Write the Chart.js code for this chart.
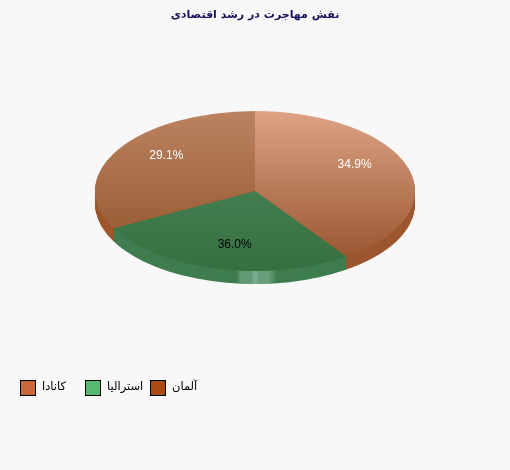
<!DOCTYPE html>
<html>
<head>
<meta charset="utf-8">
<title>نقش مهاجرت در رشد اقتصادی</title>
<script src="https://cdn.jsdelivr.net/npm/chart.js@4"></script>
<style>
    html, body { margin: 0; padding: 0; background: #f8f8f8; }
    #chart-box { position: relative; width: 510px; height: 470px; }
    #legend { position: absolute; left: 20px; top: 380px; display: flex; }
    .legend-item { width: 65px; display: flex; font: 11.5px "DejaVu Sans", sans-serif; color: #000; }
    .legend-box { width: 14px; height: 14px; border: 1px solid #000; margin-right: 6px; }
    .legend-text { line-height: 12px; }
</style>
</head>
<body>
<div id="chart-box">
    <canvas id="pieChart"></canvas>
    <div id="legend"></div>
</div>
<script>
// Chart data
const titleText = "نقش مهاجرت در رشد اقتصادی";
const categories = ["آلمان", "استرالیا", "کانادا"];
const shares = [34.9, 36.0, 29.1];

// Colors, same order as categories
const legendColors = ["#a84a12", "#58ba70", "#c8673a"];
const topLight = ["#dea385", "#4f8c62", "#bc8361"];
const topDark = ["#93502a", "#367040", "#8f5228"];
const sideColors = ["#9d5630", "#3f7d50", "#9c5628"];
const labelColors = ["#ffffff", "#000000", "#ffffff"];

// The pie is drawn as a tilted disc
const tilt = 0.5;
const depth = 13;
const centerY = 191;

// The original tilts the slice edges as well as the disc
function tiltAngle(angle) {
    const t = angle + Math.PI / 2;
    if (t >= Math.PI * 2 - 1e-6) return Math.PI * 1.5;
    let a = Math.atan2(tilt * Math.sin(t), Math.cos(t));
    if (a < 0) a += Math.PI * 2;
    return a - Math.PI / 2;
}

const tiltedPie = {
    id: "tiltedPie",
    afterDatasetsUpdate(chart) {
        chart.getDatasetMeta(0).data.forEach(arc => {
            // keep the real middle of the slice for the label
            arc.labelAngle = (arc.startAngle + arc.endAngle) / 2;
            arc.startAngle = tiltAngle(arc.startAngle);
            arc.endAngle = tiltAngle(arc.endAngle);
        });
    },
    beforeDatasetsDraw(chart) {
        const ctx = chart.ctx;
        const arcs = chart.getDatasetMeta(0).data;
        const { x, y } = arcs[0];
        ctx.save();
        ctx.translate(x, centerY);
        ctx.scale(1, tilt);
        ctx.translate(-x, -y);

        // side wall, stacked copies of each slice
        for (let d = depth; d >= 1; d--) {
            arcs.forEach((arc, i) => {
                ctx.beginPath();
                ctx.moveTo(arc.x, arc.y + d / tilt);
                ctx.arc(arc.x, arc.y + d / tilt, arc.outerRadius, arc.startAngle, arc.endAngle);
                ctx.closePath();
                ctx.fillStyle = sideColors[i];
                ctx.fill();
            });
        }

        // light stripes on the front of the wall
        const arc = arcs[1];
        const shine = ctx.createLinearGradient(arc.x - 18, 0, arc.x + 22, 0);
        shine.addColorStop(0, "rgba(125,175,145,0)");
        shine.addColorStop(0.08, "rgba(125,175,145,0.55)");
        shine.addColorStop(0.37, "rgba(125,175,145,0.6)");
        shine.addColorStop(0.42, "rgba(125,175,145,0.95)");
        shine.addColorStop(0.5, "rgba(125,175,145,0.95)");
        shine.addColorStop(0.55, "rgba(125,175,145,0.65)");
        shine.addColorStop(0.78, "rgba(125,175,145,0.7)");
        shine.addColorStop(1, "rgba(125,175,145,0)");
        ctx.beginPath();
        ctx.rect(arc.x - 18, arc.y, 40, arc.outerRadius + depth / tilt + 2);
        ctx.clip();
        ctx.beginPath();
        ctx.arc(arc.x, arc.y + depth / tilt, arc.outerRadius, 0, Math.PI);
        ctx.arc(arc.x, arc.y, arc.outerRadius, Math.PI, 0, true);
        ctx.closePath();
        ctx.fillStyle = shine;
        ctx.fill();
        ctx.restore();

        // top face, restored in afterDatasetsDraw
        ctx.save();
        ctx.translate(x, centerY);
        ctx.scale(1, tilt);
        ctx.translate(-x, -y);
    },
    afterDatasetsDraw(chart) {
        const ctx = chart.ctx;
        ctx.restore();

        ctx.font = "12px 'Liberation Sans', sans-serif";
        ctx.textAlign = "center";
        ctx.textBaseline = "middle";
        chart.getDatasetMeta(0).data.forEach((arc, i) => {
            const px = arc.x + Math.cos(arc.labelAngle) * arc.outerRadius * 0.7;
            const py = centerY + Math.sin(arc.labelAngle) * arc.outerRadius * 0.7 * tilt - 1;
            ctx.fillStyle = labelColors[i];
            ctx.fillText(shares[i].toFixed(1) + "%", px, py);
        });
    }
};

function sliceFill(context) {
    const chart = context.chart;
    if (!chart.chartArea) return topLight[context.dataIndex];
    const cy = (chart.chartArea.top + chart.chartArea.bottom) / 2;
    const g = chart.ctx.createLinearGradient(0, cy - 160, 0, cy + 160);
    g.addColorStop(0, topLight[context.dataIndex]);
    g.addColorStop(1, topDark[context.dataIndex]);
    return g;
}

new Chart(document.getElementById("pieChart"), {
    type: "pie",
    data: {
        labels: categories,
        datasets: [{
            data: shares,
            backgroundColor: sliceFill,
            borderWidth: 0,
            radius: 160,
            clip: false
        }]
    },
    plugins: [tiltedPie],
    options: {
        responsive: true,
        maintainAspectRatio: false,
        animation: false,
        plugins: {
            tooltip: { enabled: false },
            legend: { display: false },
            title: {
                display: true,
                text: titleText,
                color: "#14105c",
                font: { family: "'DejaVu Sans', sans-serif", size: 11, weight: "bold" },
                padding: { top: 9, bottom: 6 }
            }
        }
    }
});

// Legend runs left to right from the last category, in fixed width cells
const legendBox = document.getElementById("legend");
categories.forEach((name, i) => {
    const item = document.createElement("div");
    item.className = "legend-item";
    const box = document.createElement("div");
    box.className = "legend-box";
    box.style.background = legendColors[i];
    const text = document.createElement("div");
    text.className = "legend-text";
    text.textContent = name;
    item.appendChild(box);
    item.appendChild(text);
    legendBox.prepend(item);
});
</script>
</body>
</html>
